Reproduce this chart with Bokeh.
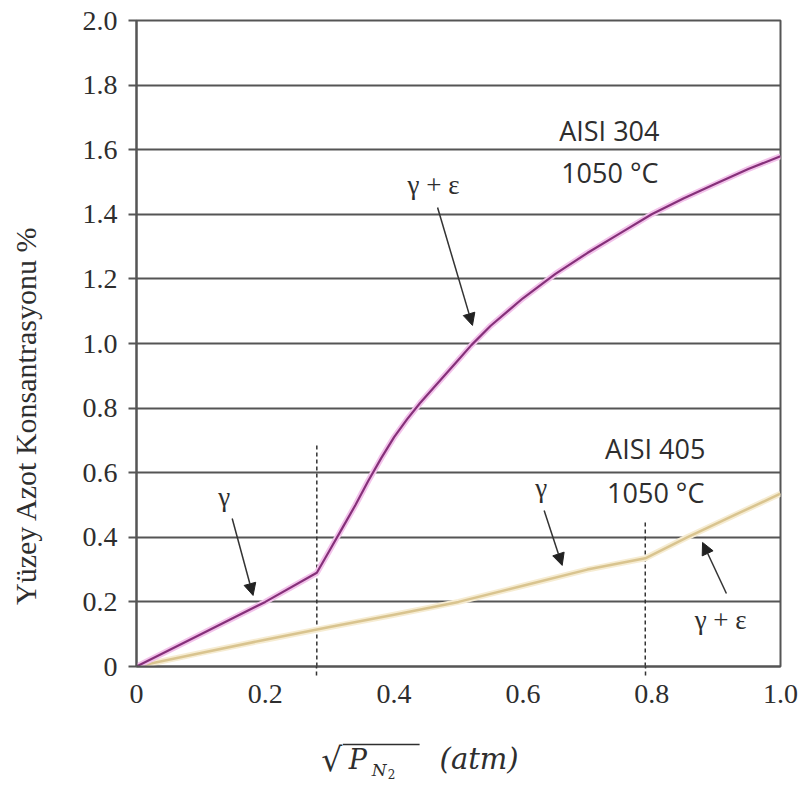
from bokeh.plotting import figure
from bokeh.layouts import row, column
from bokeh.models import FixedTicker, Label, Arrow, NormalHead, ColumnDataSource
from bokeh.embed import file_html
from bokeh.resources import INLINE
from bokeh.core.properties import value
import math

# ---------------- data ----------------
aisi304_x = [0.0, 0.1, 0.2, 0.28, 0.30, 0.32, 0.34, 0.36, 0.38, 0.40, 0.42, 0.44, 0.46,
             0.48, 0.50, 0.52, 0.55, 0.60, 0.65, 0.70, 0.75, 0.80, 0.85, 0.90, 0.95, 1.0]
aisi304_y = [0.0, 0.1, 0.2, 0.29, 0.36, 0.43, 0.50, 0.575, 0.645, 0.71, 0.765, 0.815, 0.86,
             0.905, 0.95, 0.995, 1.055, 1.14, 1.215, 1.28, 1.34, 1.40, 1.45, 1.495, 1.54, 1.58]

aisi405_x = [0.0, 0.1, 0.2, 0.3, 0.4, 0.5, 0.6, 0.7, 0.79, 0.855, 0.93, 1.0]
aisi405_y = [0.0, 0.042, 0.083, 0.122, 0.16, 0.2, 0.25, 0.30, 0.335, 0.40, 0.47, 0.535]

phase_boundary_x = [0.28, 0.79]
phase_boundary_top = [0.69, 0.45]

x_ticks = [0, 0.2, 0.4, 0.6, 0.8, 1.0]
x_tick_labels = ["0", "0.2", "0.4", "0.6", "0.8", "1.0"]
y_ticks = [0, 0.2, 0.4, 0.6, 0.8, 1.0, 1.2, 1.4, 1.6, 1.8, 2.0]
y_tick_labels = ["0", "0.2", "0.4", "0.6", "0.8", "1.0", "1.2", "1.4", "1.6", "1.8", "2.0"]

SERIF = "Liberation Serif"
MATH = "DejaVu Serif"
SANS = "Open Sans"
GRID = "#555555"
TXT = "#2e2e2e"

LEFT_W = 54
MAIN_W = 744
MAIN_H = 728
BOT_H = 78
BL, BR = 136 - LEFT_W, 18

# ---------------- main chart ----------------
p = figure(width=MAIN_W, height=MAIN_H, output_backend="svg", toolbar_location=None,
           x_range=(0, 1.0), y_range=(0, 2.0),
           min_border_left=BL, min_border_right=BR, min_border_top=20, min_border_bottom=62)
p.background_fill_color = "white"
p.border_fill_color = "white"
p.outline_line_color = GRID
p.outline_line_width = 2

p.xgrid.visible = False
p.ygrid.ticker = FixedTicker(ticks=y_ticks)
p.ygrid.grid_line_color = GRID
p.ygrid.grid_line_width = 2
p.ygrid.grid_line_alpha = 1.0

xa = p.xaxis[0]
xa.ticker = FixedTicker(ticks=x_ticks, minor_ticks=phase_boundary_x)
xa.major_label_overrides = {t: l for t, l in zip(x_ticks, x_tick_labels)}
xa.major_tick_out = 0
xa.major_tick_in = 0
xa.minor_tick_out = 9
xa.minor_tick_in = 0
xa.minor_tick_line_color = "#333333"
xa.minor_tick_line_width = 1.5
xa.minor_tick_line_dash = "4 3"
xa.axis_line_color = GRID
xa.axis_line_width = 2
xa.major_label_standoff = 9
xa.major_label_text_font = SERIF
xa.major_label_text_font_size = "28px"
xa.major_label_text_color = TXT

ya = p.yaxis[0]
ya.ticker = FixedTicker(ticks=y_ticks)
ya.major_label_overrides = {t: l for t, l in zip(y_ticks, y_tick_labels)}
ya.major_tick_out = 8
ya.major_tick_in = 0
ya.major_tick_line_color = GRID
ya.major_tick_line_width = 2
ya.minor_tick_line_color = None
ya.axis_line_color = GRID
ya.axis_line_width = 2
ya.major_label_standoff = 11
ya.major_label_text_font = SERIF
ya.major_label_text_font_size = "28px"
ya.major_label_text_color = TXT

# phase boundary dashed lines
p.segment(x0=phase_boundary_x, y0=[0, 0], x1=phase_boundary_x, y1=phase_boundary_top,
          line_color="#333333", line_width=1.5, line_dash="4 3")

# curves (soft halo + core)
src304 = ColumnDataSource(dict(x=aisi304_x, y=aisi304_y))
src405 = ColumnDataSource(dict(x=aisi405_x, y=aisi405_y))
p.line("x", "y", source=src405, line_color="#f6ecd2", line_width=6, line_join="round")
p.line("x", "y", source=src405, line_color="#d9c48f", line_width=2.5, line_join="round")
p.line("x", "y", source=src304, line_color="#f2c2ea", line_width=6, line_join="round")
p.line("x", "y", source=src304, line_color="#86307a", line_width=2.2, line_join="round")

def lab(x, y, text, font, size, align="left", baseline="alphabetic", style="normal"):
    p.add_layout(Label(x=x, y=y, text=text, text_font=font, text_font_size=size,
                       text_color=TXT, text_align=align, text_baseline=baseline,
                       text_font_style=style))

lab(0.6563, 1.658, "AISI 304", SANS, "27px")
lab(0.6594, 1.528, "1050 °C", SANS, "27px")
lab(0.7276, 0.6734, "AISI 405", SANS, "27px")
lab(0.7307, 0.5372, "1050 °C", SANS, "27px")

lab(0.1362, 0.5263, "γ", SERIF, "27px", align="center")
lab(0.4613, 1.4892, "γ + ε", SERIF, "27px", align="center")
lab(0.6285, 0.5511, "γ", SERIF, "27px", align="center")
lab(0.9071, 0.1455, "γ + ε", SERIF, "27px", align="center")

def arr(x0, y0, x1, y1):
    p.add_layout(Arrow(end=NormalHead(size=12, fill_color="#222222", line_color="#222222"),
                       x_start=x0, y_start=y0, x_end=x1, y_end=y1,
                       line_color="#333333", line_width=1.5))

arr(0.1486, 0.458, 0.181, 0.22)
arr(0.4675, 1.421, 0.5217, 1.056)
arr(0.633, 0.483, 0.661, 0.313)
arr(0.916, 0.226, 0.879, 0.384)

def blank(fig):
    fig.axis.visible = False
    fig.grid.visible = False
    fig.outline_line_color = None
    fig.background_fill_color = "white"
    fig.border_fill_color = "white"

# ---------------- y axis title (left strip) ----------------
H_ALL = MAIN_H + BOT_H
left = figure(width=LEFT_W, height=H_ALL, output_backend="svg", toolbar_location=None,
              x_range=(0, LEFT_W), y_range=(0, H_ALL),
              min_border_left=0, min_border_right=0, min_border_top=0, min_border_bottom=0)
blank(left)
left.text(x=[25], y=[H_ALL - 415], text=["Yüzey Azot Konsantrasyonu %"], angle=math.pi / 2,
          text_font=value(SERIF), text_font_size="30px", text_color=TXT,
          text_align="center", text_baseline="middle")

# ---------------- x axis title (bottom strip) ----------------
bot = figure(width=MAIN_W, height=BOT_H, output_backend="svg", toolbar_location=None,
             x_range=p.x_range, y_range=(0, BOT_H),
             min_border_left=BL, min_border_right=BR, min_border_top=0, min_border_bottom=0)
blank(bot)

def btext(x, y_page, text, size, style="normal"):
    bot.text(x=[x], y=[H_ALL - y_page], text=[text], text_font=value(MATH),
             text_font_size=size, text_font_style=style, text_color=TXT,
             text_align="left", text_baseline="alphabetic")

btext(0.287, 759, "√", "33px")
bot.segment(x0=[0.3204], y0=[H_ALL - 744], x1=[0.4396], y1=[H_ALL - 744],
            line_color=TXT, line_width=1.5)
btext(0.3297, 759, "P", "27px", "italic")
btext(0.3653, 769, "N", "17px", "italic")
btext(0.3901, 773, "2", "12px")
btext(0.4706, 758, "(atm)", "29px", "italic")

layout = row(left, column(p, bot, spacing=0), spacing=0)
open("out.html", "w").write(file_html(layout, INLINE))
